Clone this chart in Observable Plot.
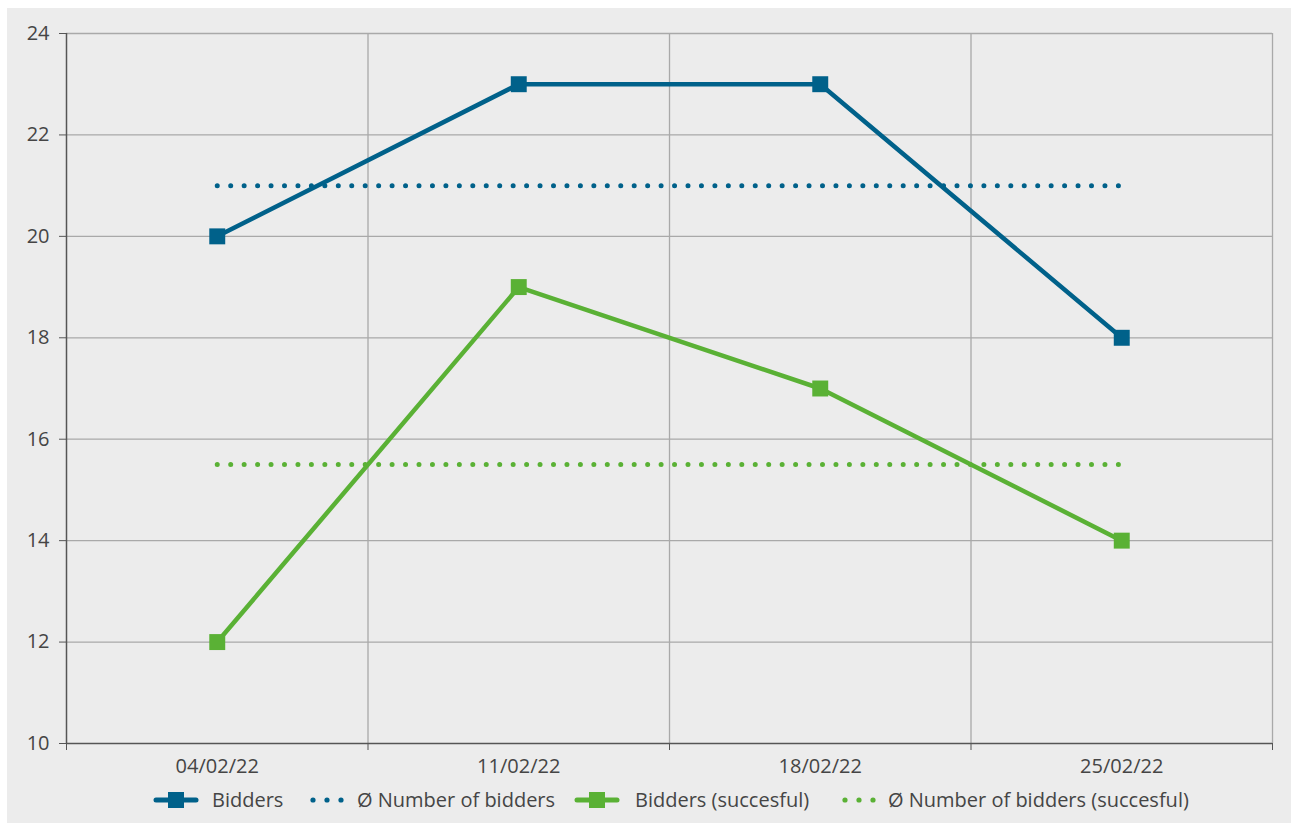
<!DOCTYPE html>
<html>
<head>
<meta charset="utf-8">
<script src="https://cdn.jsdelivr.net/npm/d3@7"></script>
<script src="https://cdn.jsdelivr.net/npm/@observablehq/plot@0.6"></script>
<style>
  html, body { margin: 0; padding: 0; background: #ffffff; }
  #wrap { position: absolute; left: 7px; top: 8px; width: 1284px; height: 815px; background: #ececec; font-family: "Open Sans", "Noto Sans", sans-serif; }
  #legend { position: absolute; left: 0; top: 779px; width: 1284px; height: 26px; font-size: 20px; color: #454545; }
  .sw { position: absolute; top: 3px; }
  .lab { position: absolute; top: 0; line-height: 26px; white-space: nowrap; }
  #chart svg { display: block; }
  #chart svg text { font-size: 20px; fill: #454545; }
</style>
</head>
<body>
<div id="wrap">
  <div id="chart"></div>
  <div id="legend"></div>
</div>
<script>
const dates = ["04/02/22", "11/02/22", "18/02/22", "25/02/22"];
const bidders = [20, 23, 23, 18];
const successful = [12, 19, 17, 14];
const avgBidders = 21;
const avgSuccessful = 15.5;
const yTicks = [10, 12, 14, 16, 18, 20, 22, 24];

const blue = "#00618a";
const green = "#5ab135";

const rows = dates.map((d, i) => ({i: i + 0.5, date: d, bidders: bidders[i], successful: successful[i]}));
const avgRows = [
  {x: rows[0].i, b: avgBidders, s: avgSuccessful},
  {x: rows[rows.length - 1].i, b: avgBidders, s: avgSuccessful}
];
const bounds = d3.range(dates.length + 1);

const chart = Plot.plot({
  width: 1284,
  height: 777,
  marginLeft: 59,
  marginTop: 25,
  marginRight: 19,
  marginBottom: 42,
  style: {background: "transparent", fontFamily: "'Open Sans', 'Noto Sans', sans-serif", color: "#454545"},
  x: {domain: [0, dates.length], axis: null},
  y: {domain: [10, 24], axis: null},
  marks: [
    Plot.gridY(yTicks.slice(1), {stroke: "#a9a9a9", strokeOpacity: 1, strokeWidth: 1.3}),
    Plot.gridX(bounds.slice(1), {stroke: "#a9a9a9", strokeOpacity: 1, strokeWidth: 1.3}),
    Plot.axisY(yTicks, {tickSize: 7, tickPadding: 10, stroke: "#555", tickFormat: d3.format("d")}),
    Plot.axisX(bounds, {tickSize: 7, tickFormat: () => "", stroke: "#555"}),
    Plot.axisX(rows.map(r => r.i), {tickSize: 0, tickPadding: 15, tickFormat: (v) => dates[Math.floor(v)]}),
    Plot.ruleX([0], {stroke: "#555", strokeWidth: 1.5}),
    Plot.ruleY([10], {stroke: "#555", strokeWidth: 1.5}),
    Plot.line(avgRows, {x: "x", y: "b", stroke: blue, strokeWidth: 5, strokeDasharray: "0 13.45", strokeLinecap: "round"}),
    Plot.line(avgRows, {x: "x", y: "s", stroke: green, strokeWidth: 5, strokeDasharray: "0 13.45", strokeLinecap: "round"}),
    Plot.line(rows, {x: "i", y: "bidders", stroke: blue, strokeWidth: 4.5}),
    Plot.line(rows, {x: "i", y: "successful", stroke: green, strokeWidth: 4.5}),
    Plot.dot(rows, {x: "i", y: "bidders", symbol: "square", r: 9, fill: blue, stroke: "none"}),
    Plot.dot(rows, {x: "i", y: "successful", symbol: "square", r: 9, fill: green, stroke: "none"})
  ]
});
document.getElementById("chart").append(chart);

// Legend (positions relative to the grey panel)
const legendItems = [
  {label: "Bidders", color: blue, type: "line", sx: 146, tx: 205},
  {label: "Ø Number of bidders", color: blue, type: "dots", sx: 303, tx: 350},
  {label: "Bidders (succesful)", color: green, type: "line", sx: 567, tx: 628},
  {label: "Ø Number of bidders (succesful)", color: green, type: "dots", sx: 835, tx: 881}
];
const legend = d3.select("#legend");
for (const it of legendItems) {
  const s = legend.append("svg").attr("class", "sw").style("left", it.sx + "px").attr("width", 46).attr("height", 20);
  if (it.type === "line") {
    s.append("line").attr("x1", 3).attr("x2", 43).attr("y1", 10).attr("y2", 10)
      .attr("stroke", it.color).attr("stroke-width", 5).attr("stroke-linecap", "round");
    s.append("rect").attr("x", 15).attr("y", 2).attr("width", 16).attr("height", 16).attr("fill", it.color);
  } else {
    for (const cx of [3, 17, 31]) s.append("circle").attr("cx", cx).attr("cy", 10).attr("r", 2.6).attr("fill", it.color);
  }
  legend.append("div").attr("class", "lab").style("left", it.tx + "px").text(it.label);
}
</script>
</body>
</html>
